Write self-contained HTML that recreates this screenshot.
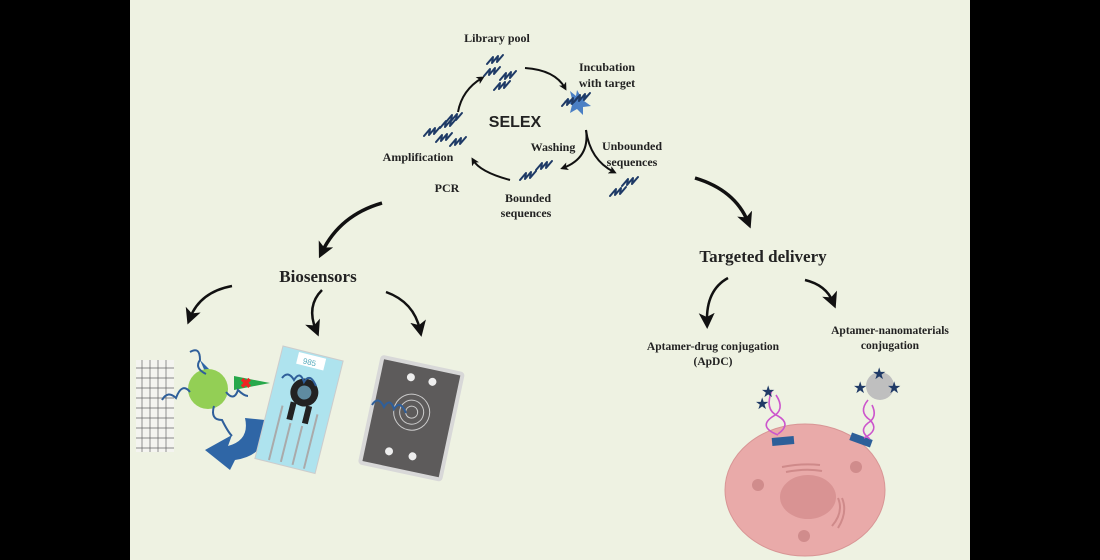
<!DOCTYPE html>
<html><head><meta charset="utf-8"><style>
html,body{margin:0;padding:0;background:#000;}
svg{display:block;}
.t{font-family:"Liberation Serif",serif;font-weight:bold;fill:#222;}
</style></head><body>
<svg width="1100" height="560" viewBox="0 0 1100 560" xmlns="http://www.w3.org/2000/svg">
<defs>
<marker id="ah" markerWidth="8" markerHeight="8" refX="5" refY="4" orient="auto" markerUnits="userSpaceOnUse"><path d="M0,0 L8,4 L0,8 L2,4 z" fill="#111"/></marker>
<marker id="ahb" markerWidth="16" markerHeight="16" refX="9" refY="8" orient="auto" markerUnits="userSpaceOnUse"><path d="M0,0 L16,8 L0,16 L4,8 z" fill="#111"/></marker>
<g id="sq"><path d="M0,2 l6,-7 l-1,6 l6,-7 l-1,6 l6,-7" fill="none" stroke="#1e3a66" stroke-width="2" stroke-linejoin="round" stroke-linecap="round"/></g>
</defs>
<rect x="0" y="0" width="1100" height="560" fill="#000"/>
<rect x="130" y="0" width="840" height="560" fill="#eef2e2"/>

<text class="t" x="497" y="42" font-size="12" text-anchor="middle">Library  pool</text>
<text class="t" x="607" y="71" font-size="12" text-anchor="middle">Incubation</text>
<text class="t" x="607" y="87" font-size="12" text-anchor="middle">with  target</text>
<text x="515" y="127" font-size="16" font-weight="bold" text-anchor="middle" font-family="Liberation Sans,sans-serif" fill="#222">SELEX</text>
<text class="t" x="553" y="151" font-size="12" text-anchor="middle">Washing</text>
<text class="t" x="632" y="150" font-size="12" text-anchor="middle">Unbounded</text>
<text class="t" x="632" y="166" font-size="12" text-anchor="middle">sequences</text>
<text class="t" x="418" y="161" font-size="12" text-anchor="middle">Amplification</text>
<text class="t" x="447" y="192" font-size="12" text-anchor="middle">PCR</text>
<text class="t" x="528" y="202" font-size="12" text-anchor="middle">Bounded</text>
<text class="t" x="526" y="217" font-size="12" text-anchor="middle">sequences</text>

<use href="#sq" x="487" y="62"/><use href="#sq" x="484" y="74"/><use href="#sq" x="500" y="78"/><use href="#sq" x="494" y="88"/>
<polygon points="577,90 581,97 589,94 584,101 591,106 583,107 583,115 577,109 570,113 572,105 564,101 572,99 570,91 576,96" fill="#4a7fc4"/>
<use href="#sq" x="562" y="104"/><use href="#sq" x="574" y="100"/>
<use href="#sq" x="424" y="134"/><use href="#sq" x="440" y="126"/><use href="#sq" x="436" y="140"/><use href="#sq" x="450" y="144"/><use href="#sq" x="446" y="120"/>
<use href="#sq" x="520" y="178"/><use href="#sq" x="536" y="168"/>
<use href="#sq" x="610" y="194"/><use href="#sq" x="622" y="184"/>

<g fill="none" stroke="#111" stroke-width="2">
<path d="M525,68 Q555,70 565,88" marker-end="url(#ah)"/>
<path d="M586,130 Q590,158 563,168" marker-end="url(#ah)"/>
<path d="M586,130 Q590,160 614,172" marker-end="url(#ah)"/>
<path d="M510,180 Q480,172 473,160" marker-end="url(#ah)"/>
<path d="M458,112 Q462,90 482,78" marker-end="url(#ah)"/>
</g>

<g fill="none" stroke="#111" stroke-width="3.5">
<path d="M382,203 Q340,215 322,252" marker-end="url(#ahb)"/>
<path d="M695,178 Q735,190 748,222" marker-end="url(#ahb)"/>
</g>
<text class="t" x="318" y="282" font-size="17" text-anchor="middle">Biosensors</text>
<text class="t" x="763" y="262" font-size="17" text-anchor="middle">Targeted delivery</text>

<g fill="none" stroke="#111" stroke-width="2.5">
<path d="M232,286 Q200,292 190,318" marker-end="url(#ahb)"/>
<path d="M322,290 Q306,306 316,330" marker-end="url(#ahb)"/>
<path d="M386,292 Q414,302 420,330" marker-end="url(#ahb)"/>
<path d="M728,278 Q706,290 707,322" marker-end="url(#ahb)"/>
<path d="M805,280 Q826,285 833,302" marker-end="url(#ahb)"/>
</g>

<text class="t" x="713" y="350" font-size="11.5" text-anchor="middle">Aptamer-drug   conjugation</text>
<text class="t" x="713" y="365" font-size="11.5" text-anchor="middle">(ApDC)</text>
<text class="t" x="890" y="334" font-size="11.5" text-anchor="middle">Aptamer-nanomaterials</text>
<text class="t" x="890" y="349" font-size="11.5" text-anchor="middle">conjugation</text>

<ellipse cx="805" cy="490" rx="80" ry="66" fill="#e9aaa9" stroke="#d89595"/>
<ellipse cx="808" cy="497" rx="28" ry="22" fill="#d99393"/>
<g stroke="#cf8a8a" stroke-width="2" fill="none"><path d="M782,467 q20,-4 38,-2"/><path d="M786,472 q20,-4 36,-1"/><path d="M838,498 q6,14 -6,28"/><path d="M842,498 q6,14 -4,30"/></g>
<circle cx="758" cy="485" r="6" fill="#d08c8c"/><circle cx="856" cy="467" r="6" fill="#d08c8c"/><circle cx="804" cy="536" r="6" fill="#d08c8c"/>
<rect x="772" y="437" width="22" height="8" fill="#2d5f99" transform="rotate(-5 783 441)"/>
<rect x="850" y="436" width="22" height="8" fill="#2d5f99" transform="rotate(20 861 440)"/>
<g fill="none" stroke="#cc55cc" stroke-width="1.6"><path d="M772,390 q-8,20 6,26 q14,8 0,18"/><path d="M776,395 q10,15 -4,22 q-14,10 6,18"/>
<path d="M868,400 q-10,12 2,20 q10,10 -6,18"/><path d="M872,405 q6,12 -4,18 q-10,8 2,16"/></g>
<circle cx="880" cy="386" r="14" fill="#bfbfbf"/>
<g fill="#1f3a66" font-size="16" font-family="DejaVu Sans,sans-serif"><text x="761" y="397">★</text><text x="755" y="409">★</text><text x="872" y="379">★</text><text x="853" y="393">★</text><text x="887" y="393">★</text></g>

<rect x="136" y="360" width="38" height="92" fill="#f4f4f0"/>
<g stroke="#666" stroke-width="0.7" fill="none">
<path d="M136,368h38M136,378h38M136,388h38M136,398h38M136,408h38M136,418h38M136,428h38M136,438h38M136,448h38"/>
<path d="M142,360v92M150,360v92M158,360v92M166,360v92"/>
</g>
<path d="M265,420 Q270,455 235,460 L230,470 L205,450 L232,435 L228,446 Q250,440 245,418 z" fill="#2f66a6"/>
<polygon points="200,360 212,372 206,372 214,382 202,374 206,374" fill="#2f66a6"/>
<circle cx="208" cy="389" r="20" fill="#93cf55"/>
<polygon points="234,376 270,383 234,390" fill="#27a84a"/>
<text x="240" y="388" font-size="14" fill="#e22" font-weight="bold" font-family="Liberation Sans,sans-serif">✖</text>
<g fill="none" stroke="#2f5f9a" stroke-width="2"><path d="M190,352 q10,-6 10,8 q-6,8 6,14"/><path d="M190,392 q-8,-10 -14,6 q-8,-8 -14,2"/><path d="M226,392 q8,10 12,-2 q6,6 10,6"/><path d="M214,406 q-4,14 8,14 q6,12 10,16"/></g>
<g transform="rotate(14 300 410)">
<rect x="268" y="352" width="62" height="116" fill="#aee3ee" stroke="#ccc"/>
<rect x="285" y="354" width="28" height="12" fill="#fff"/>
<text x="291" y="364" font-size="8" fill="#5ab" font-family="Liberation Sans,sans-serif">985</text>
<circle cx="300" cy="392" r="14" fill="#222"/><circle cx="300" cy="392" r="7" fill="#5f8ba0"/>
<path d="M292,404v18M308,404v18" stroke="#222" stroke-width="6"/>
<path d="M282,410v56M294,425v40M306,425v40M318,410v56" stroke="#aaa" stroke-width="2"/>
</g>
<path d="M282,378 q6,-8 12,2 q6,-10 10,2 q6,-10 12,4" fill="none" stroke="#2f5f9a" stroke-width="2"/>
<g transform="rotate(12 410 420)">
<rect x="368" y="362" width="86" height="112" rx="4" fill="#d8d8d8"/>
<rect x="372" y="366" width="78" height="104" fill="#5d5b5b"/>
<circle cx="410" cy="412" r="18" fill="none" stroke="#ccc" stroke-width="1"/><circle cx="410" cy="412" r="12" fill="none" stroke="#ccc" stroke-width="1"/><circle cx="410" cy="412" r="6" fill="none" stroke="#ccc" stroke-width="1"/>
<circle cx="402" cy="378" r="4" fill="#eee"/><circle cx="424" cy="378" r="4" fill="#eee"/><circle cx="396" cy="455" r="4" fill="#eee"/><circle cx="420" cy="455" r="4" fill="#eee"/>
</g>
<path d="M372,405 q6,-10 12,2 q6,-10 10,2 q6,-10 12,4" fill="none" stroke="#2f5f9a" stroke-width="2"/>
</svg>
</body></html>
